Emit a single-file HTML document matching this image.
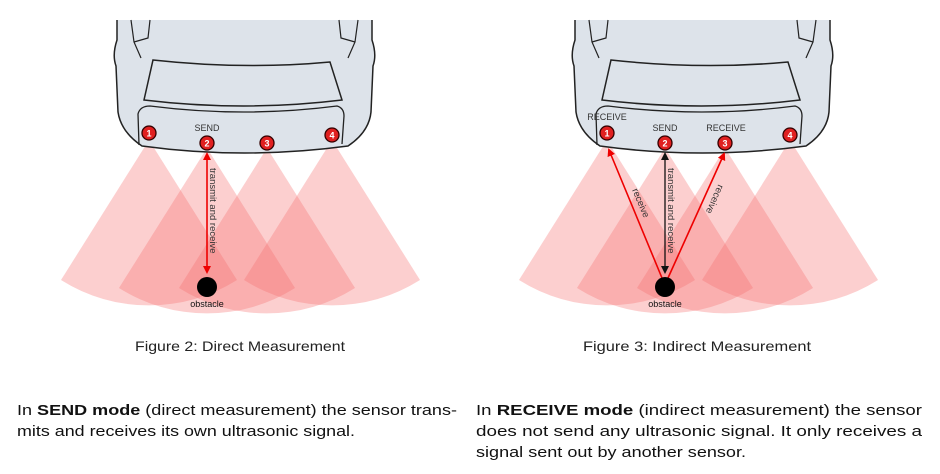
<!DOCTYPE html>
<html><head><meta charset="utf-8"><style>
body{margin:0;background:#fff;width:940px;height:474px;overflow:hidden}
svg{display:block}
</style></head><body>
<svg width="940" height="474" viewBox="0 0 940 474" xmlns="http://www.w3.org/2000/svg" font-family="Liberation Sans, sans-serif">
<defs>
<marker id="ar" markerWidth="8" markerHeight="8" refX="6" refY="4" orient="auto-start-reverse" markerUnits="userSpaceOnUse"><path d="M0,0 L8,4 L0,8 Z" fill="#e00"/></marker>
<marker id="ak" markerWidth="8" markerHeight="8" refX="6" refY="4" orient="auto-start-reverse" markerUnits="userSpaceOnUse"><path d="M0,0 L8,4 L0,8 Z" fill="#111"/></marker>
<g id="car">
<path d="M117,20 L117,40 Q112,55 116,66 L118,112 Q121,132 142,146 Q244,160 348,146 Q369,132 371,112 L373,66 Q377,55 372,40 L372,20" fill="#dde3ea" stroke="#222" stroke-width="1.5"/>
<path d="M131,20 L134,42 L141,58 M134,42 L148,38 L150,20" fill="none" stroke="#222" stroke-width="1.2"/>
<path d="M358,20 L355,42 L348,58 M355,42 L341,38 L339,20" fill="none" stroke="#222" stroke-width="1.2"/>
<path d="M153,60 Q244,70 330,62 L342,100 Q244,112 144,100 Z" fill="#dde3ea" stroke="#222" stroke-width="1.5"/>
<path d="M139,145 L138,114 Q140,106 150,106 Q244,118 337,106 Q344,108 344,116 L342,144" fill="none" stroke="#222" stroke-width="1.3"/>
</g>
<g id="cones" fill="rgb(245,110,110)" fill-opacity="0.33">
<path d="M149,140 L61,280 A165,165 0 0 0 237,280 Z"/>
<path d="M207,148 L119,288 A165,165 0 0 0 295,288 Z"/>
<path d="M267,148 L179,288 A165,165 0 0 0 355,288 Z"/>
<path d="M332,140 L244,280 A165,165 0 0 0 420,280 Z"/>
</g>
<g id="sens" font-size="9" font-weight="bold" fill="#fff" text-anchor="middle">
<circle cx="149" cy="133" r="7" fill="#e02020" stroke="#300" stroke-width="1.3"/><text x="149" y="136.5">1</text>
<circle cx="207" cy="143" r="7" fill="#e02020" stroke="#300" stroke-width="1.3"/><text x="207" y="146.5">2</text>
<circle cx="267" cy="143" r="7" fill="#e02020" stroke="#300" stroke-width="1.3"/><text x="267" y="146.5">3</text>
<circle cx="332" cy="135" r="7" fill="#e02020" stroke="#300" stroke-width="1.3"/><text x="332" y="138.5">4</text>
</g>
</defs>

<use href="#cones"/>
<use href="#car"/>
<use href="#sens"/>
<text x="207" y="131" font-size="9" fill="#333" text-anchor="middle">SEND</text>
<line x1="207" y1="272" x2="207" y2="154" stroke="#e00" stroke-width="1.6" marker-end="url(#ar)" marker-start="url(#ar)"/>
<text transform="translate(210,168) rotate(90)" font-size="9.5" fill="#333">transmit and receive</text>
<circle cx="207" cy="287" r="10" fill="#000"/>
<text x="207" y="307" font-size="9" fill="#111" text-anchor="middle">obstacle</text>

<g transform="translate(458,0)">
<use href="#cones"/>
<use href="#car"/>
<use href="#sens"/>
</g>
<text x="607" y="120" font-size="9" fill="#333" text-anchor="middle">RECEIVE</text>
<text x="665" y="131" font-size="9" fill="#333" text-anchor="middle">SEND</text>
<text x="726" y="131" font-size="9" fill="#333" text-anchor="middle">RECEIVE</text>
<line x1="665" y1="272" x2="665" y2="154" stroke="#111" stroke-width="1.3" marker-end="url(#ak)" marker-start="url(#ak)"/>
<line x1="662" y1="278" x2="609" y2="150" stroke="#e00" stroke-width="1.6" marker-end="url(#ar)"/>
<line x1="668" y1="278" x2="724" y2="154" stroke="#e00" stroke-width="1.6" marker-end="url(#ar)"/>
<text transform="translate(668,168) rotate(90)" font-size="9.5" fill="#333">transmit and receive</text>
<text transform="translate(632,190) rotate(67)" font-size="9.5" fill="#333">receive</text>
<text transform="translate(712,198) rotate(114)" font-size="9.5" fill="#333" text-anchor="middle">receive</text>
<circle cx="665" cy="287" r="10" fill="#000"/>
<text x="665" y="307" font-size="9" fill="#111" text-anchor="middle">obstacle</text>

<text x="240" y="351" font-size="14" fill="#222" text-anchor="middle" textLength="210" lengthAdjust="spacingAndGlyphs">Figure 2: Direct Measurement</text>
<text x="697" y="351" font-size="14" fill="#222" text-anchor="middle" textLength="228" lengthAdjust="spacingAndGlyphs">Figure 3: Indirect Measurement</text>

<g font-size="15" fill="#111">
<text x="17" y="415" textLength="440" lengthAdjust="spacingAndGlyphs">In <tspan font-weight="bold">SEND mode</tspan> (direct measurement) the sensor trans-</text>
<text x="17" y="436" textLength="338" lengthAdjust="spacingAndGlyphs">mits and receives its own ultrasonic signal.</text>
<text x="476" y="415" textLength="446" lengthAdjust="spacingAndGlyphs">In <tspan font-weight="bold">RECEIVE mode</tspan> (indirect measurement) the sensor</text>
<text x="476" y="436" textLength="446" lengthAdjust="spacingAndGlyphs">does not send any ultrasonic signal. It only receives a</text>
<text x="476" y="457" textLength="270" lengthAdjust="spacingAndGlyphs">signal sent out by another sensor.</text>
</g>
</svg>
</body></html>
